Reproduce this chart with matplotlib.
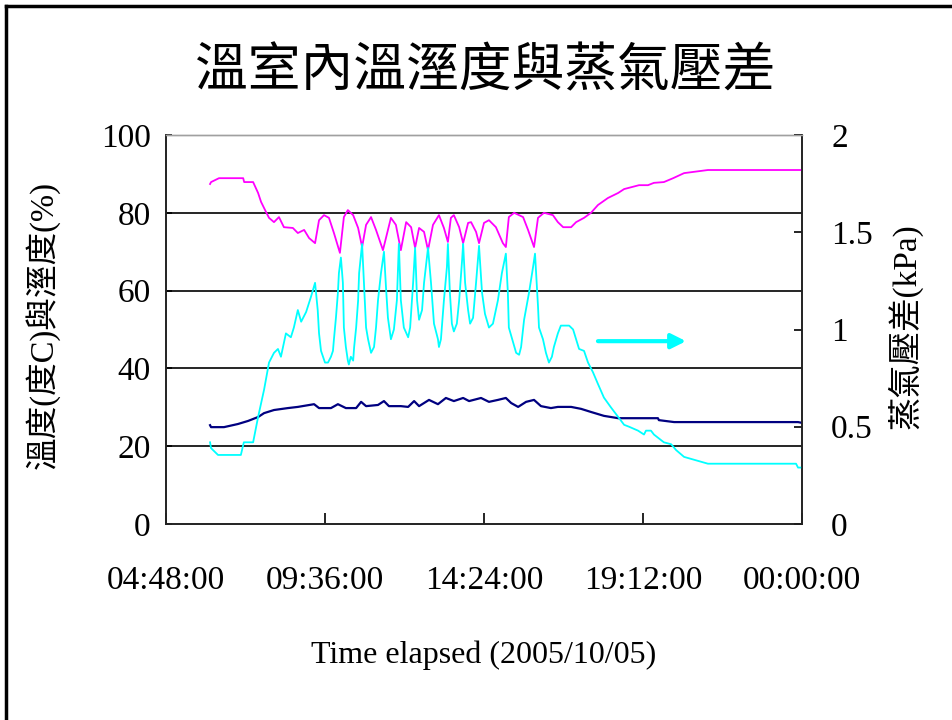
## Imports
import matplotlib
matplotlib.use("Agg")
import matplotlib.pyplot as plt
from matplotlib.lines import Line2D

## Data (hours of the day)
# relative humidity (%) - magenta, left axis
rh_hours = [6.13, 6.16, 6.40, 7.13, 7.16, 7.43, 7.58, 7.67, 7.82, 7.91, 8.06, 8.21, 8.36, 8.63,
            8.78, 8.97, 9.12, 9.30, 9.42, 9.57, 9.72, 9.87, 10.05, 10.17, 10.29, 10.45, 10.60,
            10.72, 10.84, 10.99, 11.14, 11.35, 11.59, 11.74, 11.89, 12.05, 12.20, 12.32, 12.44,
            12.59, 12.71, 12.86, 13.04, 13.19, 13.31, 13.40, 13.49, 13.65, 13.77, 13.92, 14.01,
            14.16, 14.25, 14.40, 14.55, 14.76, 14.97, 15.06, 15.15, 15.31, 15.58, 15.73, 15.91,
            16.03, 16.21, 16.48, 16.63, 16.79, 17.03, 17.18, 17.42, 17.63, 17.84, 18.14, 18.45,
            18.63, 19.08, 19.35, 19.53, 19.83, 20.11, 20.44, 21.16, 24.0]
rh_pct = [87.4, 87.9, 88.9, 88.9, 87.9, 87.9, 85.1, 82.8, 80.2, 78.7, 77.6, 78.9, 76.3, 76.1,
          74.8, 75.6, 73.5, 72.2, 78.1, 79.4, 78.7, 74.8, 69.7, 78.9, 80.7, 79.4, 76.1,
          71.2, 76.9, 78.9, 75.6, 70.4, 78.7, 76.9, 70.4, 77.6, 76.3, 71.0, 76.1,
          75.1, 70.4, 76.9, 79.4, 76.1, 72.5, 78.7, 79.4, 76.3, 72.2, 77.4, 77.6,
          75.1, 72.2, 77.4, 78.1, 76.3, 72.2, 71.2, 78.9, 80.0, 78.9, 75.6, 71.2,
          78.7, 80.0, 79.4, 77.6, 76.3, 76.3, 77.6, 78.7, 80.0, 82.0, 83.8, 85.1,
          86.1, 87.1, 87.1, 87.7, 87.9, 88.9, 90.2, 91.0, 91.0]

# temperature (deg C) - navy, left axis
temp_hours = [6.13, 6.16, 6.55, 6.97, 7.28, 7.58, 7.76, 8.06, 8.48, 8.78, 9.27, 9.42, 9.78,
              9.99, 10.23, 10.54, 10.69, 10.84, 11.20, 11.38, 11.53, 11.89, 12.11, 12.29,
              12.44, 12.74, 13.01, 13.25, 13.49, 13.77, 13.95, 14.31, 14.55, 14.82, 15.06,
              15.22, 15.43, 15.67, 15.91, 16.12, 16.42, 16.63, 17.03, 17.33, 17.63, 18.02,
              18.45, 19.65, 19.68, 20.14, 23.88, 24.0]
temp_c = [25.4, 24.9, 24.9, 25.7, 26.5, 27.5, 28.5, 29.3, 29.8, 30.1, 30.8, 29.8, 29.8,
          30.8, 29.8, 29.8, 31.4, 30.3, 30.6, 31.6, 30.3, 30.3, 30.1, 31.6,
          30.3, 31.9, 30.8, 32.4, 31.6, 32.4, 31.6, 32.4, 31.4, 31.9, 32.4,
          31.1, 30.1, 31.4, 31.9, 30.3, 29.8, 30.1, 30.1, 29.6, 28.8, 27.8,
          27.2, 27.2, 26.7, 26.2, 26.2, 26.0]

# vapour pressure deficit (kPa) - cyan, right axis
vpd_hours = [6.13, 6.16, 6.37, 7.06, 7.15, 7.43, 7.58, 7.76, 7.91, 8.06, 8.18, 8.27, 8.42, 8.57,
             8.66, 8.78, 8.88, 9.03, 9.18, 9.30, 9.38, 9.42, 9.48, 9.54, 9.60, 9.69, 9.78, 9.84,
             9.87, 9.93, 9.99, 10.02, 10.08, 10.14, 10.17, 10.23, 10.29, 10.32, 10.38, 10.45,
             10.48, 10.54, 10.60, 10.63, 10.72, 10.78, 10.84, 10.90, 10.99, 11.08, 11.14, 11.20,
             11.29, 11.38, 11.44, 11.50, 11.59, 11.68, 11.77, 11.83, 11.89, 11.98, 12.11, 12.17,
             12.26, 12.32, 12.38, 12.44, 12.53, 12.59, 12.71, 12.80, 12.89, 13.01, 13.04, 13.10,
             13.19, 13.28, 13.31, 13.37, 13.43, 13.49, 13.58, 13.65, 13.74, 13.77, 13.83, 13.92,
             13.98, 14.07, 14.16, 14.25, 14.34, 14.43, 14.55, 14.67, 14.82, 14.94, 15.06, 15.12,
             15.15, 15.25, 15.37, 15.46, 15.52, 15.61, 15.76, 15.88, 15.94, 16.03, 16.06, 16.18,
             16.27, 16.36, 16.45, 16.51, 16.63, 16.72, 16.97, 17.09, 17.18, 17.27, 17.42, 17.54,
             17.69, 17.84, 18.02, 18.23, 18.45, 18.63, 18.78, 19.05, 19.23, 19.29, 19.44, 19.53,
             19.83, 20.05, 20.20, 20.44, 21.16, 23.82, 23.88, 24.0]
vpd_kpa = [0.42, 0.39, 0.355, 0.355, 0.42, 0.42, 0.55, 0.69, 0.83, 0.88, 0.90, 0.86, 0.98, 0.96,
           1.01, 1.10, 1.04, 1.09, 1.17, 1.24, 1.10, 0.98, 0.89, 0.86, 0.83, 0.83, 0.86, 0.89,
           0.95, 1.06, 1.19, 1.29, 1.37, 1.24, 1.01, 0.91, 0.84, 0.82, 0.86, 0.84,
           0.91, 1.01, 1.15, 1.29, 1.44, 1.22, 1.01, 0.95, 0.88, 0.91, 1.01, 1.15,
           1.29, 1.40, 1.22, 1.06, 0.95, 1.00, 1.15, 1.44, 1.15, 1.01, 0.96, 1.01,
           1.24, 1.42, 1.15, 1.05, 1.10, 1.24, 1.42, 1.24, 1.03, 0.95, 0.91, 0.95,
           1.15, 1.32, 1.44, 1.19, 1.03, 0.99, 1.03, 1.15, 1.36, 1.44, 1.24, 1.10,
           1.03, 1.06, 1.24, 1.43, 1.19, 1.08, 1.01, 1.03, 1.15, 1.29, 1.39, 1.19,
           1.01, 0.95, 0.88, 0.87, 0.91, 1.05, 1.19, 1.32, 1.39, 1.12, 1.01, 0.95,
           0.88, 0.83, 0.86, 0.91, 0.98, 1.02, 1.02, 1.00, 0.95, 0.90, 0.89, 0.83,
           0.78, 0.72, 0.65, 0.60, 0.55, 0.51, 0.50, 0.48, 0.46, 0.48, 0.48, 0.46,
           0.42, 0.41, 0.38, 0.345, 0.31, 0.31, 0.29, 0.29]

# axis ticks
x_ticks = [4.8, 9.6, 14.4, 19.2, 24.0]
x_tick_labels = ["04:48:00", "09:36:00", "14:24:00", "19:12:00", "00:00:00"]
left_ticks = [0, 20, 40, 60, 80, 100]
right_ticks = [0, 0.5, 1, 1.5, 2]
right_tick_labels = ["0", "0.5", "1", "1.5", "2"]

## Figure
serif = "Liberation Serif"
cjk = ["Liberation Serif", "Noto Sans CJK TC"]

fig = plt.figure(figsize=(9.53, 7.2), dpi=100)
ax = fig.add_axes([166 / 953, 1 - 524 / 720, 636 / 953, 389 / 720])
ax2 = ax.twinx()

# lines
ax.plot(rh_hours, rh_pct, color="#ff00ff", lw=1.3, zorder=3)
ax.plot(temp_hours, temp_c, color="#000080", lw=1.6, zorder=3)
ax2.plot(vpd_hours, vpd_kpa, color="#00ffff", lw=1.3, zorder=2)

# arrow pointing at the right axis
ax2.annotate("", xy=(20.5, 0.94), xytext=(17.84, 0.94),
             arrowprops=dict(arrowstyle="-|>", color="#00ffff", lw=3, mutation_scale=22,
                             shrinkA=0, shrinkB=0))

# axes / grid
ax.set_xlim(4.8, 24.0)
ax.set_ylim(0, 100)
ax2.set_ylim(0, 2)
ax.set_xticks(x_ticks)
ax.set_xticklabels(x_tick_labels, fontfamily=serif, fontsize=24)
ax.set_yticks(left_ticks)
ax.set_yticklabels([str(t) for t in left_ticks], fontfamily=serif, fontsize=24)
ax2.set_yticks(right_ticks)
ax2.set_yticklabels(right_tick_labels, fontfamily=serif, fontsize=24)

ax.tick_params(axis="x", direction="in", length=8, width=1.2, pad=30)
ax.tick_params(axis="y", direction="in", length=4, width=1.2, pad=11)
ax2.tick_params(axis="y", direction="in", length=6, width=1.2, pad=21)

ax.set_axisbelow(True)
ax.yaxis.grid(True, color="black", lw=1.2)
grid_lines = ax.get_ygridlines()
grid_lines[0].set_visible(False)
grid_lines[-1].set_visible(False)

for a in (ax, ax2):
    for side in ["left", "right", "bottom"]:
        a.spines[side].set_linewidth(1.2)
        a.spines[side].set_color("#222222")
    a.spines["top"].set_color("#a0a0a0")
    a.spines["top"].set_linewidth(1.0)

## Texts
fig.text(485 / 953, 1 - 73 / 720, "溫室內溫溼度與蒸氣壓差", family=cjk, fontsize=38,
         ha="center", va="center")
fig.text(42 / 953, 1 - 325 / 720, "溫度(度C)與溼度(%)", family=cjk, fontsize=23.5,
         rotation=90, ha="center", va="center")
fig.text(905 / 953, 1 - 326 / 720, "蒸氣壓差(kPa)", family=cjk, fontsize=24,
         rotation=90, ha="center", va="center")
fig.text(484 / 953, 1 - 655 / 720, "Time elapsed (2005/10/05)", family=serif, fontsize=23,
         ha="center", va="center")

# slide frame (left and top edge)
fig.add_artist(Line2D([6 / 953, 6 / 953], [0, 1 - 5.5 / 720], color="black", lw=2.5,
                      transform=fig.transFigure))
fig.add_artist(Line2D([6 / 953, 1], [1 - 5.5 / 720, 1 - 5.5 / 720], color="black", lw=2.5,
                      transform=fig.transFigure))

fig.savefig("out.png", dpi=100)
